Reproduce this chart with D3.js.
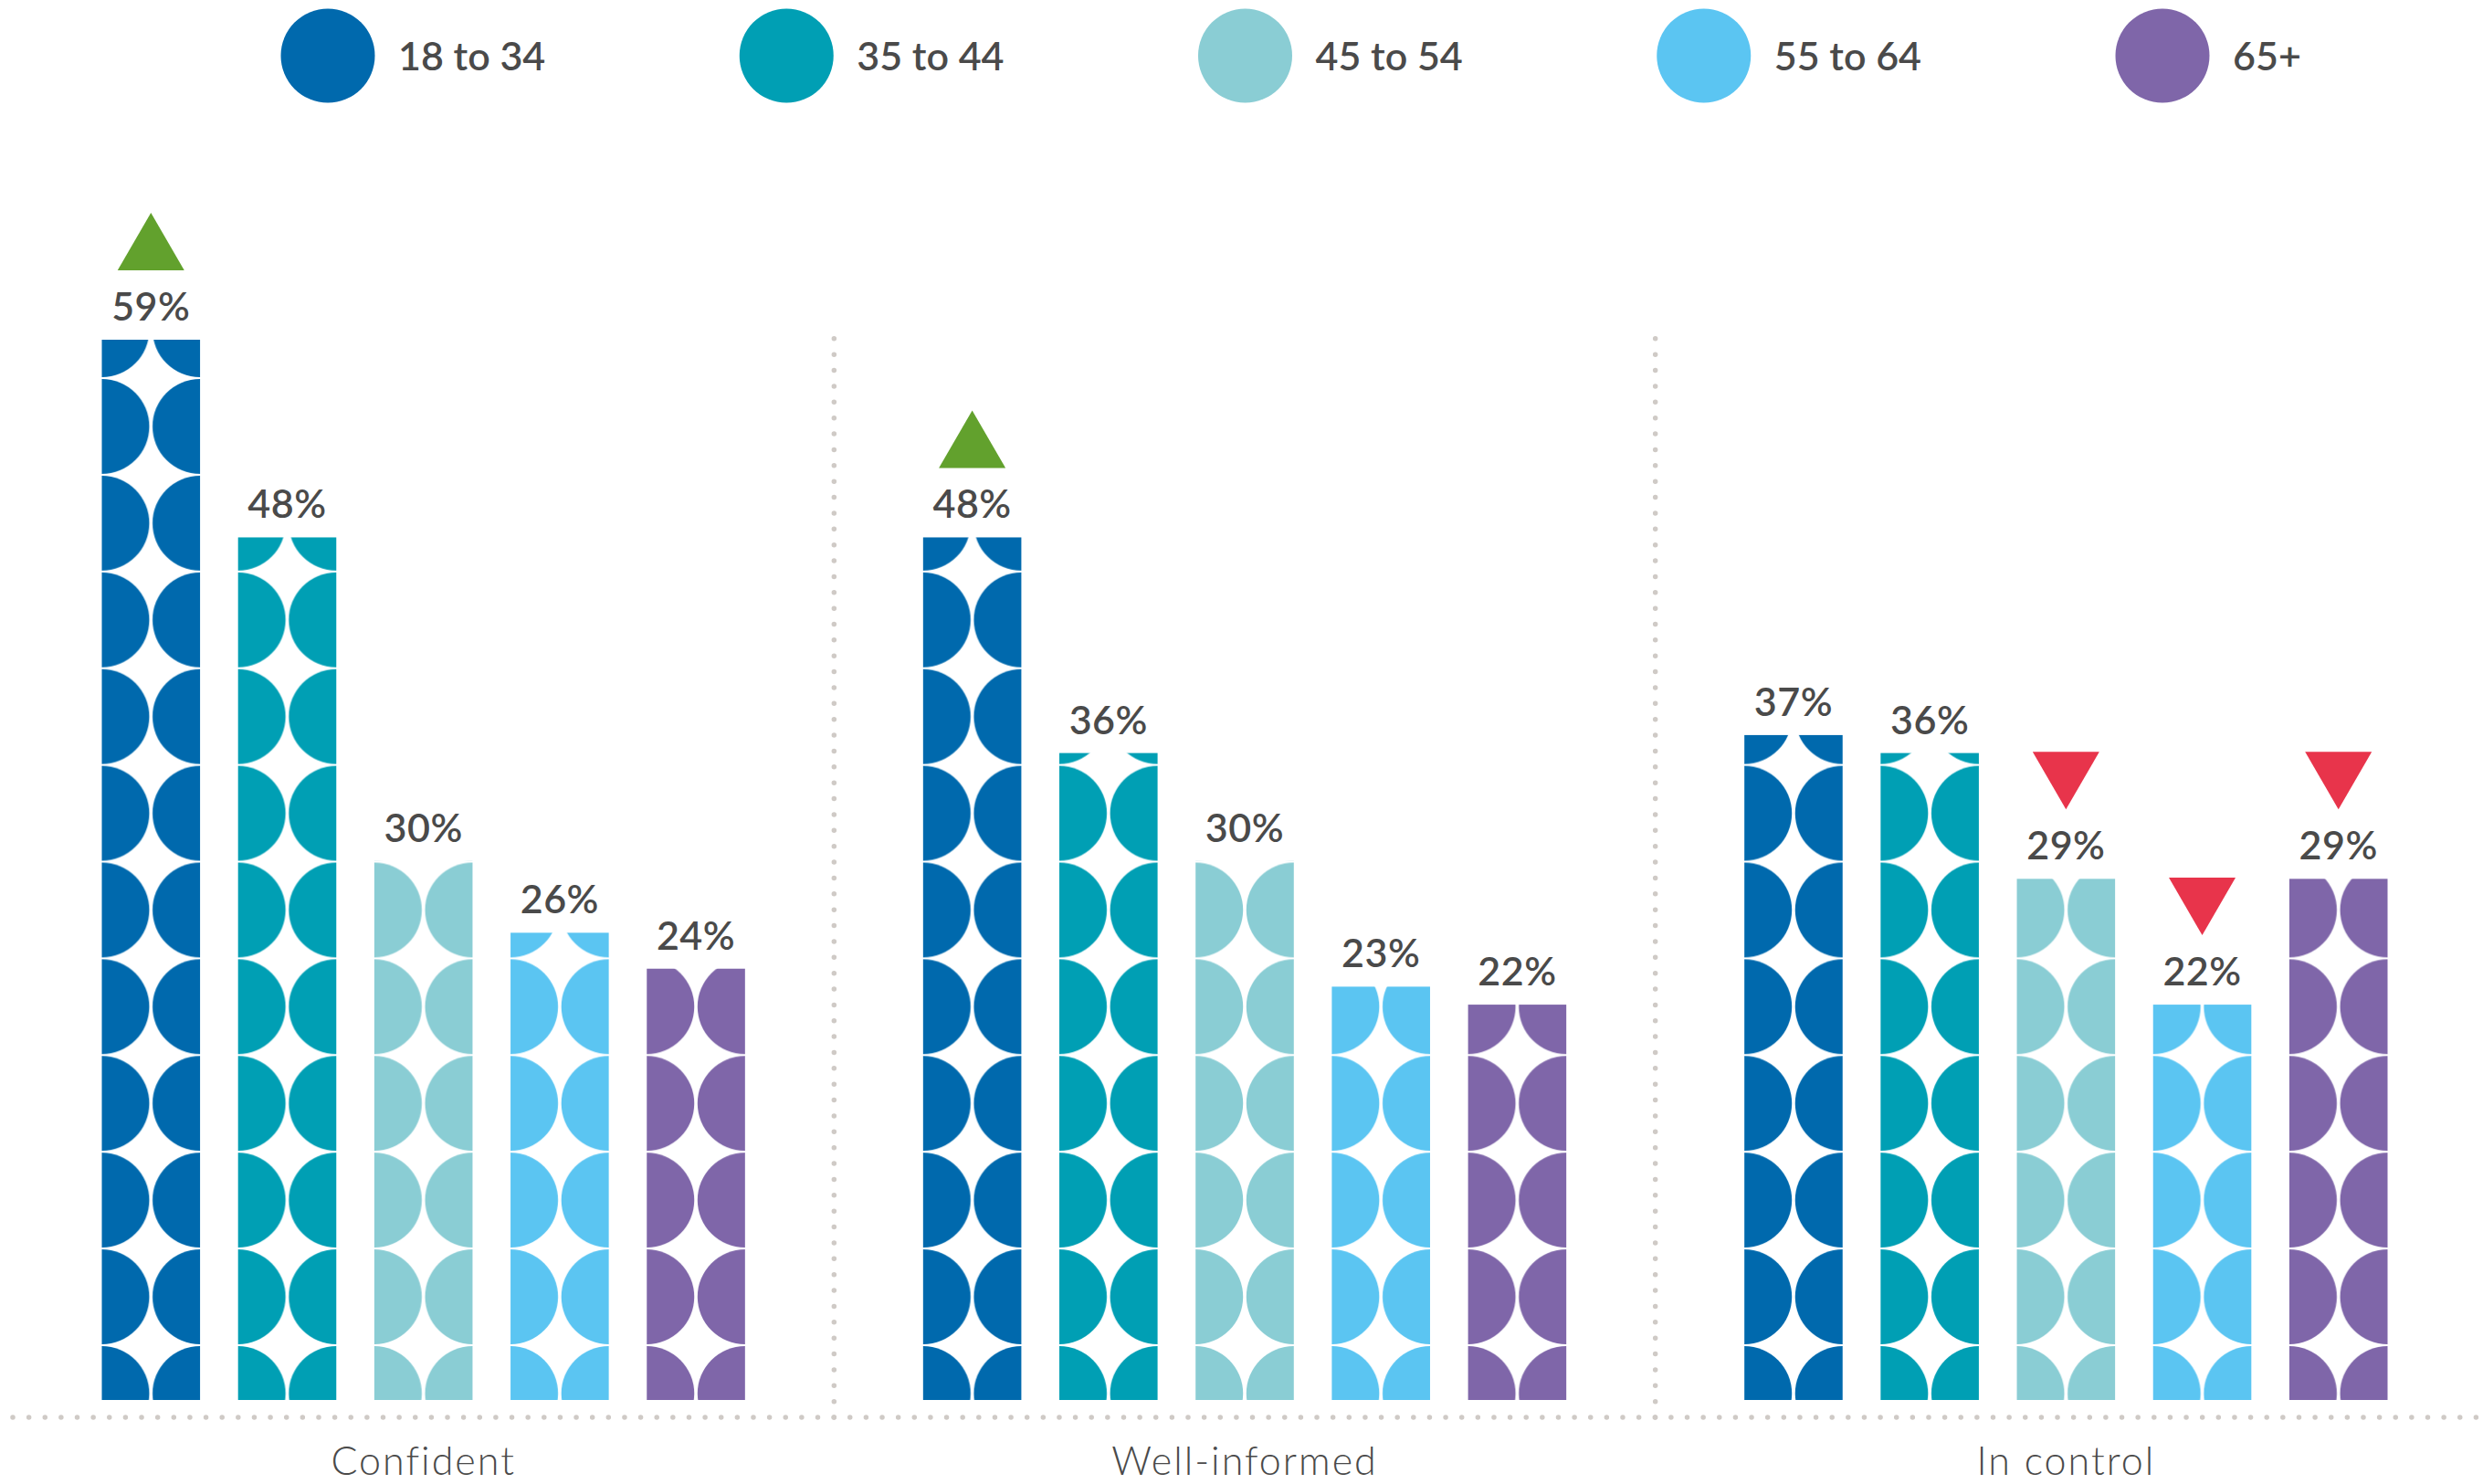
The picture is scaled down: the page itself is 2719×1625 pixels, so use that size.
<!DOCTYPE html>
<html>
<head>
<meta charset="utf-8">
<script src="https://cdn.jsdelivr.net/npm/d3@7"></script>
<style>
  html, body { margin: 0; padding: 0; background: #ffffff; }
  svg { display: block; }
  text { font-family: Lato, "Open Sans", sans-serif; fill: #4a4a4a; }
</style>
</head>
<body>
<svg id="chart" width="2719" height="1625"></svg>
<script>
// ---- data ----
const categories = ["Confident", "Well-informed", "In control"];
const ageGroups = ["18 to 34", "35 to 44", "45 to 54", "55 to 64", "65+"];
const ageColors = ["#0069ad", "#009fb4", "#8acdd4", "#5bc5f2", "#7f66a9"];
const confidentValues = [59, 48, 30, 26, 24];
const wellInformedValues = [48, 36, 30, 23, 22];
const inControlValues = [37, 36, 29, 22, 29];
// significance markers: "up", "down" or null per age group
const confidentMarks = ["up", null, null, null, null];
const wellInformedMarks = ["up", null, null, null, null];
const inControlMarks = [null, null, "down", "down", "down"];

const seriesValues = [confidentValues, wellInformedValues, inControlValues];
const seriesMarks = [confidentMarks, wellInformedMarks, inControlMarks];

const rows = [];
categories.forEach((cat, ci) => {
  ageGroups.forEach((age, ai) => {
    rows.push({ cat, age, ai, value: seriesValues[ci][ai], mark: seriesMarks[ci][ai] });
  });
});

// ---- layout ----
const svg = d3.select("#chart");
const baseY = 1533;
const axisY = 1552;
const dotGap = 17.63;

const x0 = d3.scaleBand().domain(categories).range([14, 2712]).padding(0);
const x1 = d3.scaleBand().domain(ageGroups)
  .range([97.5, x0.bandwidth() - 97.5]).paddingInner(0.279).paddingOuter(0);
const y = d3.scaleLinear().domain([0, 59]).range([baseY, 372]);
const color = d3.scaleOrdinal().domain(ageGroups).range(ageColors);

const barW = x1.bandwidth();
const tileH = 105.9;
const radius = 52;

// ---- patterns: two half discs per tile, one per bar ----
const defs = svg.append("defs");
rows.forEach((d, i) => {
  d.x = x0(d.cat) + x1(d.age);
  d.pid = "tile" + i;
  const p = defs.append("pattern")
    .attr("id", d.pid)
    .attr("patternUnits", "userSpaceOnUse")
    .attr("x", d.x)
    .attr("y", baseY - 60)
    .attr("width", barW)
    .attr("height", tileH);
  p.append("circle").attr("cx", 0).attr("cy", tileH / 2).attr("r", radius).attr("fill", color(d.age));
  p.append("circle").attr("cx", barW).attr("cy", tileH / 2).attr("r", radius).attr("fill", color(d.age));
});

// ---- dotted baseline and separators ----
svg.append("line")
  .attr("x1", 14).attr("x2", 2712.5)
  .attr("y1", axisY).attr("y2", axisY)
  .attr("stroke", "#cfcac6").attr("stroke-width", 5.5)
  .attr("stroke-linecap", "round")
  .attr("stroke-dasharray", `0 ${dotGap}`);

svg.selectAll("line.sep")
  .data(categories.slice(1))
  .join("line")
  .attr("class", "sep")
  .attr("x1", d => x0(d)).attr("x2", d => x0(d))
  .attr("y1", axisY).attr("y2", 370)
  .attr("stroke", "#cfcac6").attr("stroke-width", 5.5)
  .attr("stroke-linecap", "round")
  .attr("stroke-dasharray", "0 17.37");

// ---- bars ----
svg.selectAll("rect.bar")
  .data(rows)
  .join("rect")
  .attr("class", "bar")
  .attr("x", d => d.x)
  .attr("y", d => y(d.value))
  .attr("width", barW)
  .attr("height", d => baseY - y(d.value))
  .attr("fill", d => `url(#${d.pid})`);

// ---- value labels ----
svg.selectAll("text.val")
  .data(rows)
  .join("text")
  .attr("class", "val")
  .attr("x", d => d.x + barW / 2)
  .attr("y", d => y(d.value) - 21)
  .attr("text-anchor", "middle")
  .attr("font-size", 43)
  .attr("font-weight", 600)
  .attr("letter-spacing", 0.5)
  .text(d => d.value + "%");

// ---- significance triangles ----
const triW = 73, triH = 63;
svg.selectAll("path.mark")
  .data(rows.filter(d => d.mark))
  .join("path")
  .attr("class", "mark")
  .attr("d", d => {
    const cx = d.x + barW / 2;
    const top = y(d.value) - 139;
    const bot = y(d.value) - 76;
    return d.mark === "up"
      ? `M${cx - triW / 2},${bot}L${cx + triW / 2},${bot}L${cx},${top}Z`
      : `M${cx - triW / 2},${top}L${cx + triW / 2},${top}L${cx},${bot}Z`;
  })
  .attr("fill", d => d.mark === "up" ? "#62a12d" : "#e8344b");

// ---- category labels ----
svg.selectAll("text.cat")
  .data(categories)
  .join("text")
  .attr("class", "cat")
  .attr("x", d => x0(d) + x0.bandwidth() / 2)
  .attr("y", 1615)
  .attr("text-anchor", "middle")
  .attr("font-size", 43)
  .attr("font-weight", 300)
  .attr("letter-spacing", 2)
  .text(d => d);

// ---- legend ----
const legendX = d3.scalePoint().domain(ageGroups).range([359, 2368]);
const legend = svg.selectAll("g.legend")
  .data(ageGroups)
  .join("g")
  .attr("class", "legend")
  .attr("transform", d => `translate(${legendX(d)},61)`);
legend.append("circle").attr("r", 51.5).attr("fill", d => color(d));
legend.append("text")
  .attr("x", 77).attr("y", 16)
  .attr("font-size", 43)
  .attr("font-weight", 600)
  .text(d => d);
</script>
</body>
</html>
